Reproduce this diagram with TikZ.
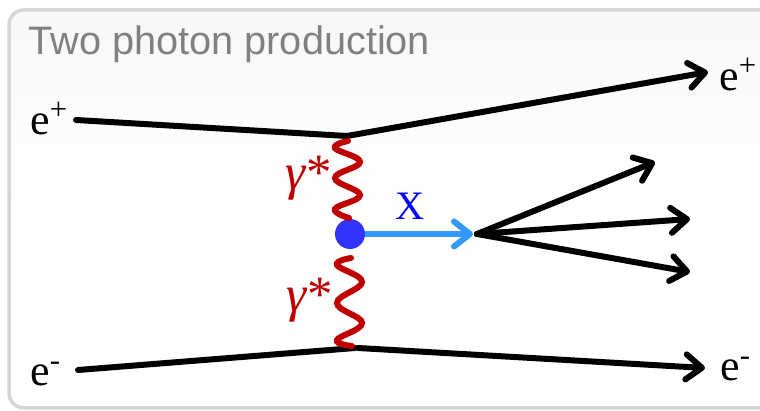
\documentclass[tikz,border=0pt]{standalone}
\usepackage{fontspec}
\setmainfont{Liberation Serif}
\setsansfont{Liberation Sans}
\usetikzlibrary{arrows.meta}
\definecolor{photonred}{HTML}{C00000}
\definecolor{bluedot}{HTML}{3333FF}
\definecolor{xarrow}{HTML}{3399FF}
\tikzset{
  barb/.style={-{Straight Barb[length=0.32cm, width=0.5cm, line width=0.12cm, round]}},
  particle/.style={black, line width=0.12cm, line cap=round},
  outgoing/.style={particle, barb},
  photon/.style={photonred, line width=0.12cm, line cap=round},
  lepton/.style={inner sep=0pt, font=\fontsize{25}{25}\selectfont},
  gammalabel/.style={inner sep=0pt, text=photonred, font=\fontsize{29}{29}\selectfont},
}
\begin{document}
\begin{tikzpicture}[x=0.02cm, y=-0.02cm]
  \useasboundingbox (0,0) rectangle (760,411);
  % Panel
  \fill[white] (0,0) rectangle (760,411);
  \draw[black!16, line width=0.07cm, rounded corners=0.3cm, top color=black!3, bottom color=white, middle color=white]
    (9,10) -- (800,10) -- (800,408) -- (9,408) -- cycle;
  \node[anchor=base west, inner sep=0pt, text=black!50, font=\sffamily\fontsize{22.6}{22.6}\selectfont] (title) at (28,55) {Two photon production};

  % Vertices
  \coordinate (top) at (347,136);
  \coordinate (bottom) at (355,348);
  \coordinate (bottomb) at (358,348);
  \coordinate (fan) at (477,234);
  \coordinate (fana) at (655,162);
  \coordinate (fanb) at (690,219);
  \coordinate (fanc) at (690,272);
  \coordinate (inplus) at (76,120);
  \coordinate (inminus) at (78,370);
  \coordinate (outplus) at (708,72);
  \coordinate (outminus) at (705,368);

  % Labels
  \node[lepton, anchor=base west] (eplusin) at (30,135) {e\textsuperscript{+}};
  \node[lepton, anchor=base west] (eplusout) at (719,91) {e\textsuperscript{+}};
  \node[lepton, anchor=base west] (eminusin) at (30,386) {e\textsuperscript{-}};
  \node[lepton, anchor=base west] (eminusout) at (720,381) {e\textsuperscript{-}};
  \node[gammalabel, anchor=base west] (gammaa) at (285,190) {\textit{γ}\textup{*}};
  \node[gammalabel, anchor=base west] (gammab) at (286,312) {\textit{γ}\textup{*}};

  % Leptons
  \draw[particle] (inplus) -- (top);
  \draw[outgoing] (top) -- (outplus);
  \draw[particle] (inminus) -- (bottom);
  \draw[outgoing] (bottomb) -- (outminus);

  % Photons
  \node[circle, fill=bluedot, minimum size=0.6cm, inner sep=0pt] (blob) at (350,234) {};
  \draw[photon] plot[smooth, tension=0.7] coordinates {(348,141) (335,148) (360,162) (335,178) (360,195) (335,209) (349,218)};
  \draw[photon] plot[smooth, tension=0.7] coordinates {(351,258) (337,265) (362,282) (337,303) (362,323) (337,340) (352,346)};

  % X
  \draw[xarrow, line width=0.12cm, barb] (blob) -- (473,234);
  \node[inner sep=0pt, text=blue, font=\fontsize{23}{23}\selectfont] (xlabel) at (410,206) {X};

  % Decay products
  \foreach \target in {fana, fanb, fanc} {
    \draw[outgoing] (fan) -- (\target);
  }
\end{tikzpicture}
\end{document}
